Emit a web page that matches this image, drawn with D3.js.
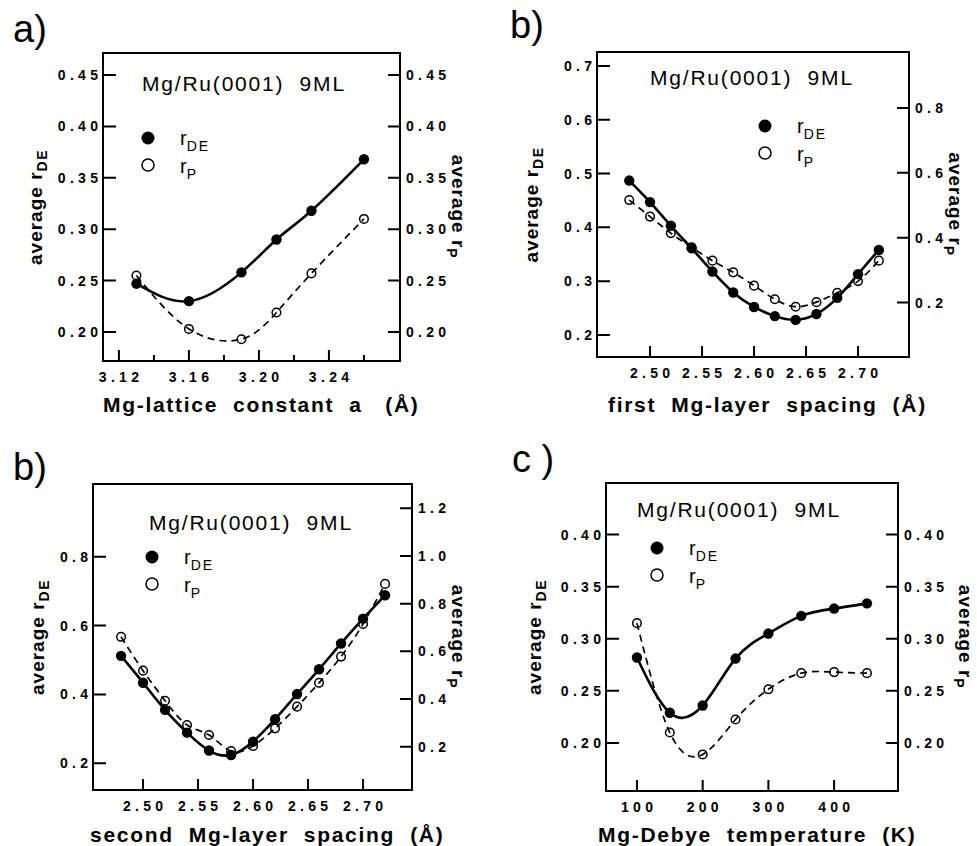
<!DOCTYPE html>
<html>
<head>
<meta charset="utf-8">
<script src="https://cdn.jsdelivr.net/npm/d3@7"></script>
<style>
body { margin: 0; background: #fff; }
svg { font-family: "Liberation Sans", Arial, Helvetica, sans-serif; }
.tl { font-size: 14px; font-weight: bold; letter-spacing: 4.3px; fill: #000; }
.tag { font-size: 38px; }
.head { font-size: 21px; letter-spacing: 1.8px; white-space: pre; }
.leg { font-size: 20px; }
.sub { font-size: 14px; letter-spacing: 2px; }
.ylab { font-size: 19px; font-weight: bold; letter-spacing: 1px; }
.ysub { font-size: 14px; font-weight: bold; letter-spacing: 1.5px; }
.xlab { font-size: 21px; font-weight: bold; letter-spacing: 1.7px; white-space: pre; }
</style>
</head>
<body>
<svg id="fig" width="977" height="846"></svg>
<script>
// ---- data ----

// a) Mg lattice constant
const latticeA  = [3.13, 3.16, 3.19, 3.21, 3.23, 3.26];
const latticeDE = [0.247, 0.230, 0.258, 0.290, 0.318, 0.368];
const latticeP  = [0.255, 0.203, 0.193, 0.219, 0.257, 0.310];
const latticeXTicks = [3.12, 3.16, 3.20, 3.24];
const latticeXMinor = [3.14, 3.18, 3.22, 3.26];
const latticeYTicks = [0.20, 0.25, 0.30, 0.35, 0.40, 0.45];

// b) first Mg-layer spacing
const firstD  = [2.48, 2.50, 2.52, 2.54, 2.56, 2.58, 2.60, 2.62, 2.64, 2.66, 2.68, 2.70, 2.72];
const firstDE = [0.487, 0.447, 0.403, 0.361, 0.318, 0.279, 0.252, 0.235, 0.228, 0.239, 0.269, 0.313, 0.358];
const firstP  = [0.516, 0.465, 0.414, 0.370, 0.329, 0.293, 0.252, 0.210, 0.187, 0.201, 0.230, 0.266, 0.329];
const firstXTicks = [2.50, 2.55, 2.60, 2.65, 2.70];
const firstYTicks = [0.2, 0.3, 0.4, 0.5, 0.6, 0.7];
const firstRTicks = [0.2, 0.4, 0.6, 0.8];

// b) second Mg-layer spacing
const secondD  = [2.48, 2.50, 2.52, 2.54, 2.56, 2.58, 2.60, 2.62, 2.64, 2.66, 2.68, 2.70, 2.72];
const secondDE = [0.512, 0.434, 0.355, 0.289, 0.237, 0.224, 0.263, 0.328, 0.401, 0.473, 0.548, 0.620, 0.688];
const secondP  = [0.661, 0.519, 0.393, 0.291, 0.249, 0.182, 0.203, 0.277, 0.368, 0.468, 0.578, 0.715, 0.883];
const secondXTicks = [2.50, 2.55, 2.60, 2.65, 2.70];
const secondYTicks = [0.2, 0.4, 0.6, 0.8];
const secondRTicks = [0.2, 0.4, 0.6, 0.8, 1.0, 1.2];

// c) Mg Debye temperature
const debyeT  = [100, 150, 200, 250, 300, 350, 400, 450];
const debyeDE = [0.282, 0.229, 0.236, 0.281, 0.305, 0.322, 0.329, 0.334];
const debyeP  = [0.315, 0.210, 0.189, 0.2225, 0.2515, 0.267, 0.268, 0.267];
const debyeXTicks = [100, 200, 300, 400];
const debyeYTicks = [0.20, 0.25, 0.30, 0.35, 0.40];

const headText = "Mg/Ru(0001)  9ML";

// ---- layout ----
const panels = [
  { tag: "a)", tagX: 13, tagY: 42, box: [103, 53, 400, 361],
    xs: latticeA, de: latticeDE, p: latticeP,
    xDom: [3.1109, 3.2806], yDom: [0.1718, 0.4714], rDom: [0.1718, 0.4714],
    xTicks: latticeXTicks, xMinor: latticeXMinor, yTicks: latticeYTicks, rTicks: latticeYTicks,
    xFmt: ".2f", yFmt: ".2f", rFmt: ".2f",
    head: [142, 91], legend: [148, 138], leftLab: 42, rightLab: 452,
    title: "Mg-lattice  constant  a   (Å)", titleX: 103, titleY: 412 },
  { tag: "b)", tagX: 510, tagY: 38, box: [597, 52, 909, 357],
    xs: firstD, de: firstDE, p: firstP,
    xDom: [2.449, 2.749], yDom: [0.159, 0.726], rDom: [0.0318, 0.9728],
    xTicks: firstXTicks, xMinor: [], yTicks: firstYTicks, rTicks: firstRTicks,
    xFmt: ".2f", yFmt: ".1f", rFmt: ".1f",
    head: [650, 85], legend: [765, 126], leftLab: 538, rightLab: 949,
    title: "first  Mg-layer  spacing  (Å)", titleX: 608, titleY: 412 },
  { tag: "b)", tagX: 13, tagY: 480, box: [93, 484, 412, 790],
    xs: secondD, de: secondDE, p: secondP,
    xDom: [2.4545, 2.7445], yDom: [0.1224, 1.0111], rDom: [0.0184, 1.302],
    xTicks: secondXTicks, xMinor: [], yTicks: secondYTicks, rTicks: secondRTicks,
    xFmt: ".2f", yFmt: ".1f", rFmt: ".1f",
    head: [149, 530], legend: [152, 557], leftLab: 44, rightLab: 452,
    title: "second  Mg-layer  spacing  (Å)", titleX: 90, titleY: 842 },
  { tag: "c )", tagX: 512, tagY: 472, box: [606, 483, 898, 791],
    xs: debyeT, de: debyeDE, p: debyeP,
    xDom: [52.9, 497.2], yDom: [0.1539, 0.4495], rDom: [0.1539, 0.4495],
    xTicks: debyeXTicks, xMinor: [], yTicks: debyeYTicks, rTicks: debyeYTicks,
    xFmt: "d", yFmt: ".2f", rFmt: ".2f",
    head: [637, 517], legend: [657, 548], leftLab: 541, rightLab: 959,
    title: "Mg-Debye  temperature  (K)", titleX: 598, titleY: 842 }
];

const svg = d3.select("#fig");
const LS = 4.3; // tick label letter spacing

function drawPanel(cfg) {
  const [x0, y0, x1, y1] = cfg.box;
  const x = d3.scaleLinear().domain(cfg.xDom).range([x0, x1]);
  const y = d3.scaleLinear().domain(cfg.yDom).range([y1, y0]);
  const r = d3.scaleLinear().domain(cfg.rDom).range([y1, y0]);
  const g = svg.append("g");

  ///
  /// frame + inward ticks, one path
  ///
  const p = d3.path();
  p.rect(x0, y0, x1 - x0, y1 - y0);
  cfg.yTicks.forEach(v => { p.moveTo(x0, y(v)); p.lineTo(x0 + 13, y(v)); });
  cfg.rTicks.forEach(v => { p.moveTo(x1, r(v)); p.lineTo(x1 - 12, r(v)); });
  cfg.xTicks.forEach(v => { p.moveTo(x(v), y1); p.lineTo(x(v), y1 - 11); });
  cfg.xMinor.forEach(v => { p.moveTo(x(v), y1); p.lineTo(x(v), y1 - 6); });
  g.append("path")
    .attr("d", p.toString())
    .attr("fill", "none")
    .attr("stroke", "#000")
    .attr("stroke-width", 2);

  g.selectAll(null).data(cfg.yTicks).join("text")
    .attr("class", "tl")
    .attr("text-anchor", "end")
    .attr("x", x0 - 5 + LS).attr("y", d => y(d))
    .attr("dy", "0.36em")
    .text(d3.format(cfg.yFmt));

  g.selectAll(null).data(cfg.rTicks).join("text")
    .attr("class", "tl")
    .attr("x", x1 + 6).attr("y", d => r(d))
    .attr("dy", "0.36em")
    .text(d3.format(cfg.rFmt));

  g.selectAll(null).data(cfg.xTicks).join("text")
    .attr("class", "tl")
    .attr("text-anchor", "middle")
    .attr("x", d => x(d) + LS / 2).attr("y", y1 + 21)
    .text(d3.format(cfg.xFmt));

  ///
  /// curves and points
  ///
  const lineP = d3.line()
    .x((d, i) => x(cfg.xs[i]))
    .y(d => r(d))
    .curve(d3.curveNatural);
  const lineDE = d3.line()
    .x((d, i) => x(cfg.xs[i]))
    .y(d => y(d))
    .curve(d3.curveNatural);

  g.append("path").datum(cfg.p)
    .attr("d", lineP)
    .attr("fill", "none").attr("stroke", "#000")
    .attr("stroke-width", 1.7).attr("stroke-dasharray", "7,5");

  g.append("path").datum(cfg.de)
    .attr("d", lineDE)
    .attr("fill", "none").attr("stroke", "#000")
    .attr("stroke-width", 2.6);

  g.append("g").selectAll("circle")
    .data(cfg.p)
    .join("circle")
    .attr("cx", (d, i) => x(cfg.xs[i]))
    .attr("cy", d => r(d))
    .attr("r", 4.3)
    .attr("fill", "none").attr("stroke", "#000").attr("stroke-width", 1.5);

  g.append("g").selectAll("circle")
    .data(cfg.de)
    .join("circle")
    .attr("cx", (d, i) => x(cfg.xs[i]))
    .attr("cy", d => y(d))
    .attr("r", 5.2)
    .attr("fill", "#000");

  // header
  g.append("text").attr("class", "head")
    .attr("x", cfg.head[0]).attr("y", cfg.head[1])
    .text(headText);

  // legend
  const [lx, ly] = cfg.legend;
  g.append("circle").attr("cx", lx).attr("cy", ly).attr("r", 6.5).attr("fill", "#000");
  g.append("circle").attr("cx", lx).attr("cy", ly + 27).attr("r", 6)
    .attr("fill", "#fff").attr("stroke", "#000").attr("stroke-width", 1.5);
  const t1 = g.append("text").attr("class", "leg").attr("x", lx + 32).attr("y", ly + 7);
  t1.append("tspan").text("r");
  t1.append("tspan").attr("class", "sub").attr("dy", 6).text("DE");
  const t2 = g.append("text").attr("class", "leg").attr("x", lx + 32).attr("y", ly + 35);
  t2.append("tspan").text("r");
  t2.append("tspan").attr("class", "sub").attr("dy", 6).text("P");

  ///
  /// axis titles
  ///
  const cy = (y0 + y1) / 2;
  const yl = g.append("text").attr("class", "ylab")
    .attr("text-anchor", "middle")
    .attr("transform", `translate(${cfg.leftLab},${cy}) rotate(-90)`);
  yl.append("tspan").text("average r");
  yl.append("tspan").attr("class", "ysub").attr("dy", 5).text("DE");

  const yr = g.append("text").attr("class", "ylab")
    .attr("text-anchor", "middle")
    .attr("transform", `translate(${cfg.rightLab},${cy}) rotate(90)`);
  yr.append("tspan").text("average r");
  yr.append("tspan").attr("class", "ysub").attr("dy", 5).text("P");

  g.append("text").attr("class", "xlab")
    .attr("x", cfg.titleX).attr("y", cfg.titleY)
    .text(cfg.title);

  // panel tag
  g.append("text").attr("class", "tag")
    .attr("x", cfg.tagX).attr("y", cfg.tagY)
    .style("white-space", "pre")
    .text(cfg.tag);
}

panels.forEach(drawPanel);
</script>
</body>
</html>
